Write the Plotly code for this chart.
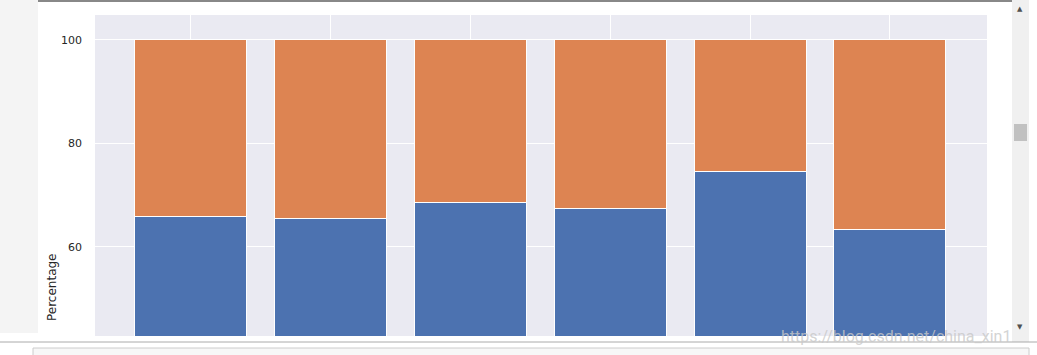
import plotly.graph_objects as go

positions = [0, 1, 2, 3, 4, 5]
lower_pct = [65.8, 65.4, 68.5, 67.5, 74.5, 63.3]
upper_pct = [34.2, 34.6, 31.5, 32.5, 25.5, 36.7]
y_ticks = [60, 80, 100]

W, H = 1037, 355
L, R, T, B = 95, 50, 15, 19
PW, PH = W - L - R, H - T - B


def px(x):
    return (x - L) / PW


def py(y):
    return (H - B - y) / PH


fig = go.Figure()
fig.add_trace(go.Bar(x=positions, y=lower_pct, width=0.8,
                     marker=dict(color="#4C72B0", line=dict(color="white", width=1)),
                     showlegend=False))
fig.add_trace(go.Bar(x=positions, y=upper_pct, width=0.8,
                     marker=dict(color="#DD8452", line=dict(color="white", width=1)),
                     showlegend=False))

fig.update_layout(
    barmode="stack",
    width=W, height=H,
    margin=dict(l=L, r=R, t=T, b=B, autoexpand=False),
    paper_bgcolor="white",
    plot_bgcolor="#EAEAF2",
    font=dict(family="DejaVu Sans", size=11, color="#262626"),
    xaxis=dict(range=[-0.679, 5.693], tickvals=positions, showticklabels=False,
               showgrid=True, gridcolor="white", gridwidth=1, zeroline=False, ticks="",
               automargin=False),
    yaxis=dict(range=[42.8, 104.8], tickvals=y_ticks, showgrid=True, gridcolor="white",
               gridwidth=1, zeroline=False, ticks="", ticklabelstandoff=12, automargin=False),
    shapes=[
        dict(type="rect", xref="paper", yref="paper", x0=px(0), x1=px(38),
             y0=py(333), y1=py(0), fillcolor="#f4f4f4", line=dict(width=0), layer="below"),
        dict(type="line", xref="paper", yref="paper", x0=px(38), x1=px(1012),
             y0=py(1), y1=py(1), line=dict(color="#888888", width=2)),
        dict(type="rect", xref="paper", yref="paper", x0=px(1012), x1=px(1029),
             y0=py(342), y1=py(0), fillcolor="#f0f0f0", line=dict(width=0)),
        dict(type="rect", xref="paper", yref="paper", x0=px(1014), x1=px(1027),
             y0=py(141), y1=py(124), fillcolor="#c1c1c1", line=dict(width=0)),
        dict(type="line", xref="paper", yref="paper", x0=px(0), x1=px(1037),
             y0=py(342), y1=py(342), line=dict(color="#aaaaaa", width=1)),
        dict(type="rect", xref="paper", yref="paper", x0=px(33), x1=px(1029),
             y0=py(356), y1=py(348), fillcolor="#f7f7f7", line=dict(color="#cccccc", width=1)),
    ],
    annotations=[
        dict(text="Percentage", xref="paper", yref="paper", x=px(52), y=py(287),
             xanchor="center", yanchor="middle", textangle=-90, showarrow=False,
             font=dict(family="DejaVu Sans", size=12, color="#262626")),
        dict(text="▲", xref="paper", yref="paper", x=px(1020), y=py(9),
             xanchor="center", yanchor="middle", showarrow=False,
             font=dict(size=7, color="#505050")),
        dict(text="▼", xref="paper", yref="paper", x=px(1020), y=py(327),
             xanchor="center", yanchor="middle", showarrow=False,
             font=dict(size=7, color="#505050")),
        dict(text="https://blog.csdn.net/china_xin1", xref="paper", yref="paper",
             x=px(1013), y=py(337), xanchor="right", yanchor="middle",
             showarrow=False, font=dict(family="Roboto", size=16, color="rgba(200,200,200,0.8)")),
    ],
)

fig.write_html("out.html")
